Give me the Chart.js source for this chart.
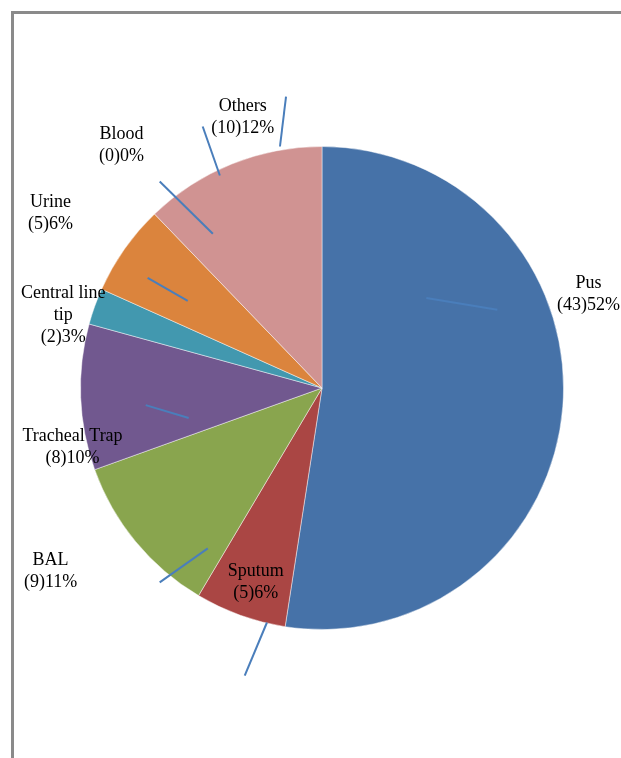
<!DOCTYPE html>
<html>
<head>
<meta charset="utf-8">
<script src="https://cdn.jsdelivr.net/npm/chart.js@4/dist/chart.umd.min.js"></script>
<style>
  html, body { margin: 0; padding: 0; background: #fff; }
  #wrap { position: relative; width: 621px; height: 758px; overflow: hidden; }
  #frame { position: absolute; left: 11px; top: 11px; width: 700px; height: 800px;
           border-left: 3px solid #8a8a8a; border-top: 3px solid #8a8a8a; }
  canvas { position: absolute; left: 0; top: 0; }
</style>
</head>
<body>
<div id="wrap">
  <div id="frame"></div>
  <canvas id="c" width="621" height="758"></canvas>
</div>
<script>
// ---- data ----
const categories = ["Pus", "Sputum", "BAL", "Tracheal Trap", "Central line tip", "Urine", "Blood", "Others"];
const counts = [43, 5, 9, 8, 2, 5, 0, 10];
const percentLabels = [52, 6, 11, 10, 3, 6, 0, 12];
const labelLines = [["Pus"], ["Sputum"], ["BAL"], ["Tracheal Trap"], ["Central line", "tip"], ["Urine"], ["Blood"], ["Others"]];
const colors = ["#4672A8", "#AA4644", "#89A54E", "#71588F", "#4298AF", "#DB843D", "#93A9CF", "#D09392"];

// label anchor (first line centre), in units of the pie radius from its centre
const labelAnchor = [
  [1.104, -0.432], [-0.274, 0.759], [-1.124, 0.713], [-1.033, 0.199],
  [-1.071, -0.394], [-1.124, -0.768], [-0.830, -1.050], [-0.328, -1.166]
];
// leader lines, in units of the pie radius from its centre
const leaderLines = [
  [0.432, -0.373, 0.726, -0.324],
  [-0.228, 0.971, -0.320, 1.191],
  [-0.473, 0.664, -0.672, 0.805],
  [-0.552, 0.124, -0.730, 0.071],
  [-0.556, -0.361, -0.722, -0.456],
  [-0.452, -0.639, -0.672, -0.855],
  [-0.423, -0.880, -0.494, -1.083],
  [-0.174, -1.000, -0.149, -1.207]
];

const labelPlugin = {
  id: 'labels',
  afterDatasetsDraw(chart) {
    const meta = chart.getDatasetMeta(0);
    const arc = meta.data[0];
    const cx = arc.x, cy = arc.y, R = arc.outerRadius;
    const ctx = chart.ctx;
    ctx.save();
    ctx.strokeStyle = '#4A7EBB';
    ctx.lineWidth = 2;
    leaderLines.forEach(l => {
      ctx.beginPath();
      ctx.moveTo(cx + l[0] * R, cy + l[1] * R);
      ctx.lineTo(cx + l[2] * R, cy + l[3] * R);
      ctx.stroke();
    });
    ctx.fillStyle = '#000';
    ctx.font = '18px "Liberation Serif", "DejaVu Serif", serif';
    ctx.textAlign = 'center';
    ctx.textBaseline = 'middle';
    categories.forEach((c, i) => {
      const lines = labelLines[i].concat(["(" + counts[i] + ")" + percentLabels[i] + "%"]);
      const x = cx + labelAnchor[i][0] * R;
      const y0 = cy + labelAnchor[i][1] * R;
      lines.forEach((t, j) => ctx.fillText(t, x, y0 + j * 22));
    });
    ctx.restore();
  }
};

new Chart(document.getElementById('c'), {
  type: 'pie',
  data: {
    labels: categories,
    datasets: [{
      data: counts,
      backgroundColor: colors,
      borderColor: 'rgba(255,255,255,0.45)',
      borderWidth: 1
    }]
  },
  options: {
    responsive: false,
    animation: false,
    layout: { padding: { left: 80, right: 57, top: 146, bottom: 128 } },
    plugins: { legend: { display: false }, tooltip: { enabled: false } }
  },
  plugins: [labelPlugin]
});
</script>
</body>
</html>
